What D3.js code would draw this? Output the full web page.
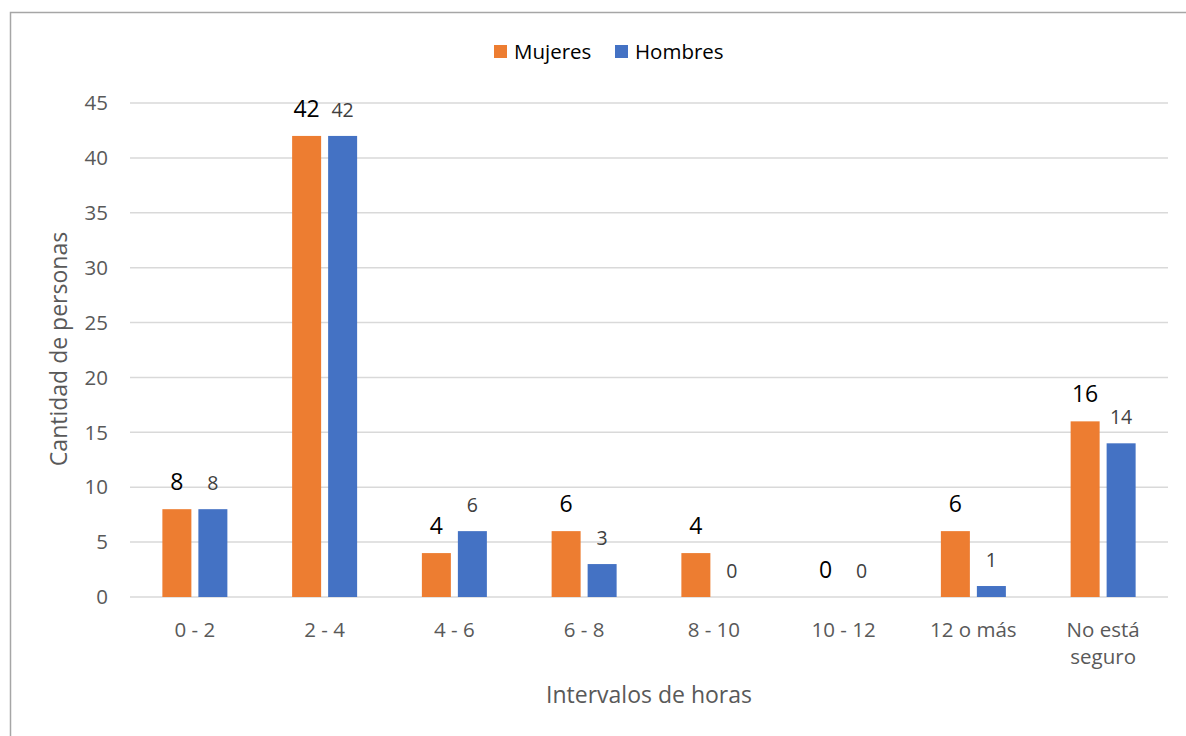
<!DOCTYPE html>
<html><head><meta charset="utf-8">
<script src="https://cdn.jsdelivr.net/npm/d3@7"></script>
<style>body{margin:0;background:#fff}svg{display:block}text{font-family:"Open Sans",sans-serif}</style>
</head><body>
<script>
const categories = ["0 - 2","2 - 4","4 - 6","6 - 8","8 - 10","10 - 12","12 o más","No está|seguro"];
const mujeres = [8,42,4,6,4,0,6,16];
const hombres = [8,42,6,3,0,0,1,14];
const seriesNames = ["Mujeres","Hombres"];
const colors = ["#ED7D31","#4472C4"];
const yTicks = [0,5,10,15,20,25,30,35,40,45];

const W=1186,H=736;
const svg=d3.select("body").append("svg").attr("width",W).attr("height",H);
svg.append("rect").attr("x",10.5).attr("y",12.5).attr("width",W).attr("height",H).attr("fill","#fff").attr("stroke","#A6A6A6").attr("stroke-width",1.5);

const L=130,R=1168,T=103,B=597;
const x=d3.scaleBand().domain(categories).range([L,R]);
const y=d3.scaleLinear().domain([0,45]).range([B,T]);

// grid
svg.append("g").selectAll("line").data(yTicks).join("line")
 .attr("x1",L).attr("x2",R).attr("y1",d=>y(d)).attr("y2",d=>y(d))
 .attr("stroke","#D9D9D9").attr("stroke-width",1.5);
svg.append("g").selectAll("text").data(yTicks).join("text")
 .attr("x",108).attr("y",d=>y(d)).attr("dy","0.35em").attr("text-anchor","end")
 .attr("font-size",20.5).attr("fill","#595959").text(d=>d);

// x labels
const xl=svg.append("g").selectAll("text").data(categories).join("text")
 .attr("x",d=>x(d)+x.bandwidth()/2).attr("y",637).attr("text-anchor","middle")
 .attr("font-size",20.5).attr("fill","#595959");
xl.each(function(d){const parts=d.split("|");const t=d3.select(this);
 parts.forEach((p,i)=>t.append("tspan").attr("x",x(d)+x.bandwidth()/2).attr("dy",i?27:0).text(p));});

const bw=29, gap=3.5;
const data=[mujeres,hombres];
data.forEach((vals,si)=>{
  const off = si===0 ? -gap-bw : gap;
  svg.append("g").selectAll("rect").data(vals.map((v,i)=>({v,c:categories[i]}))).join("rect")
   .attr("x",d=>x(d.c)+x.bandwidth()/2+off).attr("width",bw)
   .attr("y",d=>y(d.v)).attr("height",d=>B-y(d.v)).attr("fill",colors[si]);
  svg.append("g").selectAll("text").data(vals.map((v,i)=>({v,c:categories[i]}))).join("text")
   .attr("x",d=>x(d.c)+x.bandwidth()/2+off+bw/2).attr("y",d=>y(d.v)-19)
   .attr("text-anchor","middle")
   .attr("font-size",si===0?23:19.5).attr("fill",si===0?"#000":"#404040").text(d=>d.v);
});

// axis titles
svg.append("text").attr("transform","translate(67,349) rotate(-90)").attr("text-anchor","middle")
 .attr("font-size",23).attr("fill","#595959").text("Cantidad de personas");
svg.append("text").attr("x",649).attr("y",703).attr("text-anchor","middle")
 .attr("font-size",23).attr("fill","#595959").text("Intervalos de horas");

// legend
const lg=svg.append("g");
const lx=[494,615];
seriesNames.forEach((n,i)=>{
  lg.append("rect").attr("x",lx[i]).attr("y",45).attr("width",13).attr("height",13).attr("fill",colors[i]);
  lg.append("text").attr("x",lx[i]+20).attr("y",51.5).attr("dy","0.35em").attr("font-size",20.5).attr("fill","#000").text(n);
});
</script>
</body></html>
